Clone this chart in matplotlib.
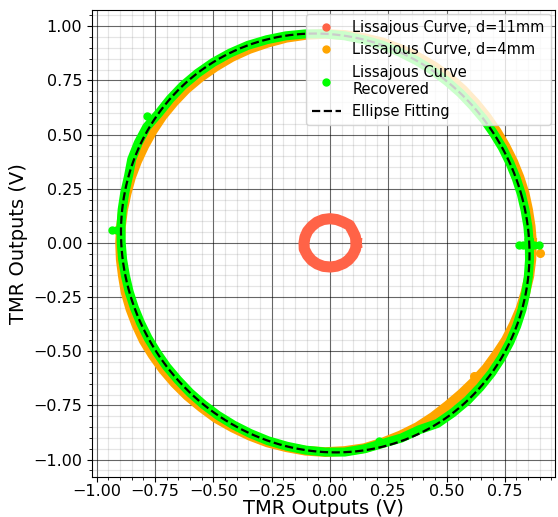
import numpy as np
import matplotlib
matplotlib.use("Agg")
import matplotlib.pyplot as plt
from matplotlib.lines import Line2D
from matplotlib.ticker import MultipleLocator

# Lissajous curve, d = 11 mm (small ring at the origin)
red_x = [0.113, 0.109, 0.097, 0.084, 0.056, 0.029, 0.0, -0.029, -0.056, -0.078,
         -0.096, -0.107, -0.111, -0.110, -0.096, -0.078, -0.055, -0.028, 0.002, 0.030,
         0.060, 0.080, 0.098, 0.110, 0.113]
red_y = [0.0, 0.030, 0.057, 0.082, 0.097, 0.108, 0.112, 0.108, 0.096, 0.077,
         0.054, 0.027, 0.0, -0.028, -0.057, -0.080, -0.097, -0.108, -0.111, -0.107,
         -0.094, -0.078, -0.055, -0.028, 0.0]

# Lissajous curve, d = 4 mm
orange_x = [0.867, 0.861, 0.850, 0.835, 0.813, 0.786, 0.753, 0.715, 0.673, 0.625,
            0.572, 0.514, 0.450, 0.380, 0.305, 0.228, 0.146, 0.064, -0.020, -0.104,
            -0.187, -0.267, -0.346, -0.421, -0.490, -0.555, -0.616, -0.669, -0.718, -0.760,
            -0.796, -0.827, -0.853, -0.872, -0.887, -0.896, -0.900, -0.897, -0.888, -0.876,
            -0.856, -0.830, -0.799, -0.760, -0.716, -0.666, -0.612, -0.551, -0.488, -0.417,
            -0.343, -0.267, -0.186, -0.104, -0.020, 0.064, 0.147, 0.226, 0.303, 0.376,
            0.443, 0.505, 0.564, 0.619, 0.670, 0.714, 0.755, 0.788, 0.817, 0.838,
            0.855, 0.864, 0.867]
orange_y = [0.0, 0.077, 0.153, 0.229, 0.303, 0.375, 0.446, 0.515, 0.581, 0.645,
            0.706, 0.762, 0.813, 0.857, 0.894, 0.925, 0.946, 0.960, 0.965, 0.960,
            0.947, 0.924, 0.895, 0.858, 0.814, 0.765, 0.710, 0.650, 0.586, 0.518,
            0.448, 0.377, 0.303, 0.228, 0.153, 0.077, 0.0, -0.077, -0.153, -0.229,
            -0.304, -0.378, -0.450, -0.518, -0.584, -0.647, -0.705, -0.759, -0.809, -0.852,
            -0.890, -0.921, -0.943, -0.959, -0.965, -0.960, -0.947, -0.921, -0.888, -0.849,
            -0.802, -0.750, -0.696, -0.639, -0.579, -0.514, -0.447, -0.377, -0.304, -0.230,
            -0.154, -0.077, 0.0]
orange_out_x = [0.90, -0.915, 0.62]
orange_out_y = [-0.045, 0.06, -0.615]

# recovered Lissajous curve
green_x = [0.855, 0.849, 0.837, 0.821, 0.799, 0.772, 0.740, 0.702, 0.660, 0.612,
           0.560, 0.502, 0.440, 0.372, 0.300, 0.225, 0.145, 0.064, -0.020, -0.104,
           -0.189, -0.271, -0.352, -0.429, -0.501, -0.568, -0.630, -0.685, -0.734, -0.786,
           -0.822, -0.850, -0.864, -0.880, -0.891, -0.896, -0.895, -0.889, -0.877, -0.861,
           -0.839, -0.812, -0.780, -0.742, -0.700, -0.652, -0.600, -0.542, -0.480, -0.412,
           -0.340, -0.265, -0.185, -0.104, -0.020, 0.064, 0.148, 0.228, 0.307, 0.383,
           0.461, 0.528, 0.590, 0.645, 0.694, 0.736, 0.772, 0.801, 0.824, 0.840,
           0.851, 0.856, 0.855]
green_y = [0.0, 0.076, 0.151, 0.225, 0.298, 0.369, 0.439, 0.506, 0.571, 0.632,
           0.691, 0.746, 0.796, 0.841, 0.880, 0.913, 0.938, 0.956, 0.965, 0.965,
           0.956, 0.938, 0.912, 0.876, 0.833, 0.783, 0.727, 0.665, 0.599, 0.535,
           0.462, 0.386, 0.307, 0.231, 0.154, 0.077, 0.0, -0.076, -0.151, -0.225,
           -0.298, -0.369, -0.439, -0.506, -0.571, -0.632, -0.691, -0.746, -0.796, -0.841,
           -0.880, -0.913, -0.938, -0.956, -0.965, -0.965, -0.950, -0.925, -0.900, -0.862,
           -0.833, -0.783, -0.727, -0.665, -0.599, -0.530, -0.457, -0.383, -0.307, -0.231,
           -0.154, -0.077, 0.0]
green_out_x = [-0.935, -0.915, 0.81, 0.83, 0.855, 0.875, 0.895, -0.785, 0.21]
green_out_y = [0.06, 0.06, -0.01, -0.01, -0.01, -0.01, -0.01, 0.585, -0.915]

# fitted ellipse: centre, semi-axes, rotation (deg)
fit_center = (-0.02, 0.0)
fit_axes = (0.870, 0.972)
fit_angle = 13.7

fig = plt.figure(figsize=(5.58, 5.17), dpi=100)
ax = fig.add_axes([0.165, 0.077, 0.8295, 0.904])

ax.plot(red_x, red_y, color='tomato', lw=8, solid_joinstyle='round', zorder=2)
ax.plot(orange_x, orange_y, color='orange', lw=7, solid_joinstyle='round', zorder=3)
ax.scatter(orange_out_x, orange_out_y, color='orange', s=30, zorder=3)
ax.plot(green_x, green_y, color='lime', lw=6.5, solid_joinstyle='round', zorder=4)
ax.scatter(green_out_x, green_out_y, color='lime', s=25, zorder=4)

t = np.linspace(0, 2 * np.pi, 400)
th = np.deg2rad(fit_angle)
ex = fit_axes[0] * np.cos(t)
ey = fit_axes[1] * np.sin(t)
fx = fit_center[0] + ex * np.cos(th) - ey * np.sin(th)
fy = fit_center[1] + ex * np.sin(th) + ey * np.cos(th)
ax.plot(fx, fy, 'k--', lw=1.6, zorder=5)

ax.set_xlim(-1.02, 0.965)
ax.set_ylim(-1.081, 1.076)
ax.xaxis.set_major_locator(MultipleLocator(0.25))
ax.yaxis.set_major_locator(MultipleLocator(0.25))
ax.xaxis.set_minor_locator(MultipleLocator(0.05))
ax.yaxis.set_minor_locator(MultipleLocator(0.05))
ax.grid(which='major', color='black', alpha=0.6, lw=0.8)
ax.grid(which='minor', color='grey', alpha=0.2, lw=0.9)
ax.set_axisbelow(True)
ax.tick_params(labelsize=11.5)
ax.tick_params(axis='x', pad=1.5)
ax.set_xlabel('TMR Outputs (V)', fontsize=14, labelpad=0)
ax.set_ylabel('TMR Outputs (V)', fontsize=14)

handles = [
    Line2D([], [], ls='', marker='o', ms=5, color='tomato'),
    Line2D([], [], ls='', marker='o', ms=5, color='orange'),
    Line2D([], [], ls='', marker='o', ms=5, color='lime'),
    Line2D([], [], ls='--', color='black', lw=1.6),
]
labels = ['Lissajous Curve, d=11mm', 'Lissajous Curve, d=4mm',
          'Lissajous Curve\nRecovered', 'Ellipse Fitting']
leg = ax.legend(handles, labels, loc='upper right', fontsize=10.5,
                borderaxespad=0.3)
leg.set_zorder(10)

fig.savefig('out.png', dpi=100)
